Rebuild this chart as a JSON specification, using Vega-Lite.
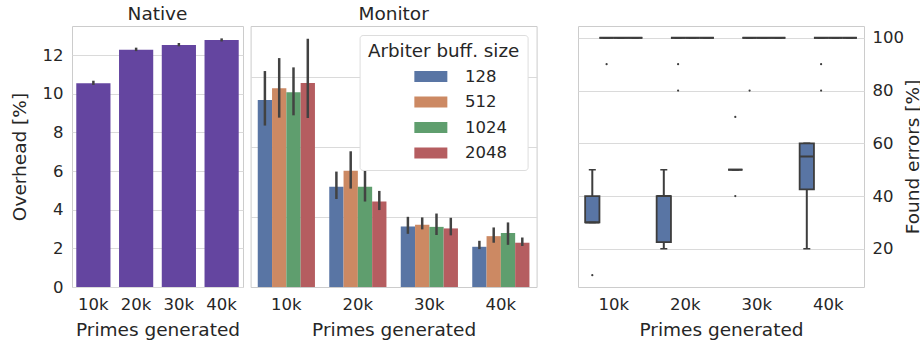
{
  "$schema": "https://vega.github.io/schema/vega-lite/v6.json",
  "background": "white",
  "padding": {"left": 9, "top": 4, "right": 0, "bottom": 0},
  "config": {
    "font": "DejaVu Sans",
    "view": {"stroke": "#cccccc", "strokeWidth": 1},
    "axis": {"domain": false, "ticks": false, "tickSize": 0, "labelFontSize": 16.5, "titleFontSize": 18.5, "labelColor": "#262626", "titleColor": "#262626", "titleFontWeight": "normal", "gridColor": "#dadada", "gridWidth": 1, "labelPadding": 9, "titlePadding": 8},
    "title": {"fontSize": 18.5, "fontWeight": "normal", "color": "#262626", "offset": 3, "baseline": "alphabetic"}
  },
  "datasets": {
    "native": [
      {"n": "10k", "v": 10.54, "lo": 10.45, "hi": 10.67},
      {"n": "20k", "v": 12.27, "lo": 12.2, "hi": 12.38},
      {"n": "30k", "v": 12.52, "lo": 12.45, "hi": 12.62},
      {"n": "40k", "v": 12.78, "lo": 12.7, "hi": 12.86}
    ],
    "monitor": [
      {"n": "10k", "b": "128", "v": 9.67, "lo": 8.35, "hi": 11.17},
      {"n": "10k", "b": "512", "v": 10.28, "lo": 8.76, "hi": 11.84},
      {"n": "10k", "b": "1024", "v": 10.07, "lo": 8.88, "hi": 11.36},
      {"n": "10k", "b": "2048", "v": 10.55, "lo": 8.74, "hi": 12.84},
      {"n": "20k", "b": "128", "v": 5.18, "lo": 4.55, "hi": 5.97},
      {"n": "20k", "b": "512", "v": 6.01, "lo": 5.09, "hi": 7.02},
      {"n": "20k", "b": "1024", "v": 5.18, "lo": 4.42, "hi": 6.13},
      {"n": "20k", "b": "2048", "v": 4.42, "lo": 3.98, "hi": 4.97},
      {"n": "30k", "b": "128", "v": 3.13, "lo": 2.75, "hi": 3.63},
      {"n": "30k", "b": "512", "v": 3.22, "lo": 2.98, "hi": 3.6},
      {"n": "30k", "b": "1024", "v": 3.11, "lo": 2.69, "hi": 3.8},
      {"n": "30k", "b": "2048", "v": 3.03, "lo": 2.67, "hi": 3.58},
      {"n": "40k", "b": "128", "v": 2.08, "lo": 1.96, "hi": 2.39},
      {"n": "40k", "b": "512", "v": 2.63, "lo": 2.29, "hi": 3.08},
      {"n": "40k", "b": "1024", "v": 2.79, "lo": 2.18, "hi": 3.34},
      {"n": "40k", "b": "2048", "v": 2.29, "lo": 2.12, "hi": 2.56}
    ],
    "boxes": [
      {"n": "10k", "b": "128", "lower": 30, "q1": 30, "median": 30, "q3": 40, "upper": 50},
      {"n": "10k", "b": "512", "lower": 100, "q1": 100, "median": 100, "q3": 100, "upper": 100},
      {"n": "10k", "b": "1024", "lower": 100, "q1": 100, "median": 100, "q3": 100, "upper": 100},
      {"n": "10k", "b": "2048", "lower": 100, "q1": 100, "median": 100, "q3": 100, "upper": 100},
      {"n": "20k", "b": "128", "lower": 20, "q1": 22.5, "median": 40, "q3": 40, "upper": 50},
      {"n": "20k", "b": "512", "lower": 100, "q1": 100, "median": 100, "q3": 100, "upper": 100},
      {"n": "20k", "b": "1024", "lower": 100, "q1": 100, "median": 100, "q3": 100, "upper": 100},
      {"n": "20k", "b": "2048", "lower": 100, "q1": 100, "median": 100, "q3": 100, "upper": 100},
      {"n": "30k", "b": "128", "lower": 50, "q1": 50, "median": 50, "q3": 50, "upper": 50},
      {"n": "30k", "b": "512", "lower": 100, "q1": 100, "median": 100, "q3": 100, "upper": 100},
      {"n": "30k", "b": "1024", "lower": 100, "q1": 100, "median": 100, "q3": 100, "upper": 100},
      {"n": "30k", "b": "2048", "lower": 100, "q1": 100, "median": 100, "q3": 100, "upper": 100},
      {"n": "40k", "b": "128", "lower": 20, "q1": 42.5, "median": 55, "q3": 60, "upper": 60},
      {"n": "40k", "b": "512", "lower": 100, "q1": 100, "median": 100, "q3": 100, "upper": 100},
      {"n": "40k", "b": "1024", "lower": 100, "q1": 100, "median": 100, "q3": 100, "upper": 100},
      {"n": "40k", "b": "2048", "lower": 100, "q1": 100, "median": 100, "q3": 100, "upper": 100}
    ],
    "outliers": [
      {"n": "10k", "b": "128", "v": 10},
      {"n": "10k", "b": "512", "v": 90},
      {"n": "20k", "b": "512", "v": 90},
      {"n": "20k", "b": "512", "v": 80},
      {"n": "30k", "b": "128", "v": 70},
      {"n": "30k", "b": "128", "v": 40},
      {"n": "30k", "b": "512", "v": 80},
      {"n": "40k", "b": "512", "v": 90},
      {"n": "40k", "b": "512", "v": 80}
    ]
  },
  "spacing": 39,
  "resolve": {"scale": {"x": "independent", "y": "independent", "xOffset": "independent", "color": "independent"}, "legend": {"color": "independent"}},
  "hconcat": [
    {
      "spacing": 5.6,
      "resolve": {"scale": {"x": "independent", "y": "independent", "xOffset": "independent", "color": "independent"}, "legend": {"color": "independent"}},
      "hconcat": [
        {
          "title": "Native",
          "width": 171,
          "height": 261,
          "data": {"name": "native"},
          "encoding": {
            "x": {"field": "n", "type": "nominal", "sort": ["10k", "20k", "30k", "40k"], "scale": {"paddingInner": 0.2, "paddingOuter": 0.1}, "axis": {"title": "Primes generated", "labelAngle": 0, "grid": false}}
          },
          "layer": [
            {
              "mark": {"type": "bar", "color": "#6445a0"},
              "encoding": {
                "y": {"field": "v", "type": "quantitative", "scale": {"domain": [0, 13.5], "nice": false}, "axis": {"title": "Overhead [%]", "values": [0, 2, 4, 6, 8, 10, 12], "grid": true, "titlePadding": 13}}
              }
            },
            {
              "mark": {"type": "rule", "color": "#424242", "strokeWidth": 2.5},
              "encoding": {"y": {"field": "lo", "type": "quantitative"}, "y2": {"field": "hi"}}
            }
          ]
        },
        {
          "title": "Monitor",
          "width": 286,
          "height": 261,
          "data": {"name": "monitor"},
          "encoding": {
            "x": {"field": "n", "type": "nominal", "sort": ["10k", "20k", "30k", "40k"], "scale": {"paddingInner": 0.2, "paddingOuter": 0.1}, "axis": {"title": "Primes generated", "labelAngle": 0, "grid": false}},
            "xOffset": {"field": "b", "type": "nominal", "sort": ["128", "512", "1024", "2048"], "scale": {"paddingInner": 0, "paddingOuter": 0}}
          },
          "layer": [
            {
              "mark": {"type": "bar"},
              "encoding": {
                "y": {"field": "v", "type": "quantitative", "scale": {"domain": [0, 13.5], "nice": false}, "axis": {"title": null, "labels": false, "values": [3.625, 7.25, 10.875], "grid": true}},
                "color": {
                  "field": "b", "type": "nominal", "sort": ["128", "512", "1024", "2048"],
                  "scale": {"domain": ["128", "512", "1024", "2048"], "range": ["#5975a4", "#cc8963", "#5f9e6e", "#b55d60"]},
                  "legend": {
                    "title": "Arbiter buff. size", "orient": "top-right", "offset": 9, "padding": 8,
                    "fillColor": "white", "strokeColor": "#dddddd", "cornerRadius": 3,
                    "titleFontSize": 18.3, "titleFontWeight": "normal", "titleAnchor": "middle", "titleColor": "#262626", "titlePadding": 7,
                    "labelFontSize": 16.5, "labelColor": "#262626",
                    "symbolType": "M4.636,-1H10.636V1H4.636Z", "symbolSize": 121, "symbolStrokeWidth": 0, "symbolOpacity": 1,
                    "labelOffset": 68, "rowPadding": 8.5
                  }
                }
              }
            },
            {
              "mark": {"type": "rule", "color": "#424242", "strokeWidth": 2.5},
              "encoding": {"y": {"field": "lo", "type": "quantitative"}, "y2": {"field": "hi"}}
            }
          ]
        }
      ]
    },
    {
      "title": " ",
      "width": 286,
      "height": 261,
      "encoding": {
        "x": {"field": "n", "type": "nominal", "sort": ["10k", "20k", "30k", "40k"], "scale": {"paddingInner": 0.2, "paddingOuter": 0.1}, "axis": {"title": "Primes generated", "labelAngle": 0, "grid": false}},
        "xOffset": {"field": "b", "type": "nominal", "sort": ["128", "512", "1024", "2048"], "scale": {"domain": ["128", "512", "1024", "2048"], "paddingInner": 0, "paddingOuter": 0}}
      },
      "layer": [
        {
          "data": {"name": "boxes"},
          "mark": {"type": "rule", "color": "#3d3d3d", "strokeWidth": 2},
          "encoding": {
            "y": {"field": "lower", "type": "quantitative", "scale": {"domain": [5.5, 104.5], "nice": false, "zero": false}, "axis": {"orient": "right", "title": "Found errors [%]", "values": [20, 40, 60, 80, 100], "grid": true, "labelPadding": 8, "titleAngle": 270, "titleBaseline": "top", "titlePadding": 0}},
            "y2": {"field": "upper"}
          }
        },
        {
          "data": {"name": "boxes"},
          "mark": {"type": "bar", "fill": "#5975a4", "stroke": "#3d3d3d", "strokeWidth": 1.8},
          "encoding": {"y": {"field": "q1", "type": "quantitative"}, "y2": {"field": "q3"}}
        },
        {
          "data": {"name": "boxes"},
          "mark": {"type": "bar", "fill": "#3d3d3d", "stroke": "#3d3d3d", "strokeWidth": 1.5, "width": 7},
          "encoding": {"y": {"field": "lower", "type": "quantitative"}, "y2": {"field": "lower"}}
        },
        {
          "data": {"name": "boxes"},
          "mark": {"type": "bar", "fill": "#3d3d3d", "stroke": "#3d3d3d", "strokeWidth": 1.5, "width": 7},
          "encoding": {"y": {"field": "upper", "type": "quantitative"}, "y2": {"field": "upper"}}
        },
        {
          "data": {"name": "boxes"},
          "mark": {"type": "bar", "fill": "#3d3d3d", "stroke": "#3d3d3d", "strokeWidth": 2},
          "encoding": {"y": {"field": "median", "type": "quantitative"}, "y2": {"field": "median"}}
        },
        {
          "data": {"name": "outliers"},
          "mark": {"type": "point", "filled": true, "color": "#3d3d3d", "size": 5, "opacity": 1},
          "encoding": {"y": {"field": "v", "type": "quantitative"}}
        }
      ]
    }
  ]
}
